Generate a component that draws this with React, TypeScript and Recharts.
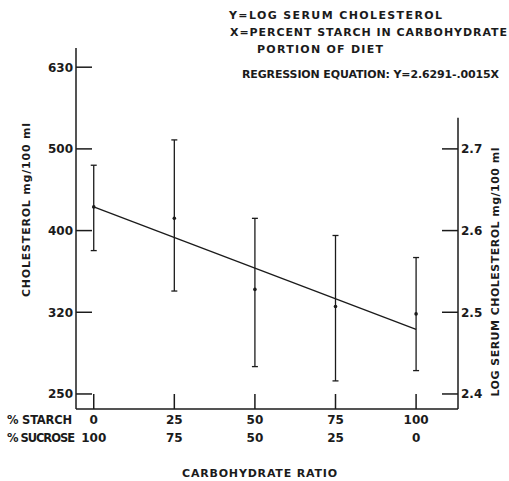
import React from 'react';
import { ComposedChart, Scatter, Line, XAxis, YAxis, ErrorBar, ReferenceLine } from 'recharts';

// ---- data ----
const starchPct = [0, 25, 50, 75, 100];
const sucrosePct = [100, 75, 50, 25, 0];
const meanLog = [2.629, 2.615, 2.528, 2.507, 2.498];
const upperLog = [2.68, 2.711, 2.615, 2.594, 2.567];
const lowerLog = [2.5755, 2.526, 2.4335, 2.416, 2.4286];
const regressionX = [0, 100];
const regressionY = [2.6291, 2.4791];
const logTicks = [2.4, 2.5, 2.6, 2.7];
const cholTickPos = [2.4, 2.5, 2.6, 2.7, 2.8];
const cholTickLabels = ['250', '320', '400', '500', '630'];
const xDomain: [number, number] = [-5.5, 113];
const yDomain: [number, number] = [2.3816, 2.8235];
const rightAxisTop = 2.738;

const INK = '#1b1b1b';
const FONT = '"DejaVu Sans", sans-serif';

const points = starchPct.map((x, i) => ({
  x,
  y: meanLog[i],
  err: [meanLog[i] - lowerLog[i], upperLog[i] - meanLog[i]],
}));
const regression = regressionX.map((x, i) => ({ x, y: regressionY[i] }));

const XTick = (props: any) => {
  const { x, y, payload } = props;
  const idx = starchPct.indexOf(payload.value);
  return (
    <g>
      <line x1={x} y1={y} x2={x} y2={y - 15} stroke={INK} strokeWidth={1.5} />
      <text x={x} y={y + 14.5} textAnchor="middle" fontFamily={FONT} fontWeight="bold" fontSize={12} fill={INK}>
        {payload.value}
      </text>
      <text x={x} y={y + 32.5} textAnchor="middle" fontFamily={FONT} fontWeight="bold" fontSize={12} fill={INK}>
        {idx >= 0 ? sucrosePct[idx] : ''}
      </text>
    </g>
  );
};

const LeftTick = (props: any) => {
  const { x, y, payload } = props;
  const idx = cholTickPos.findIndex((v) => Math.abs(v - payload.value) < 1e-6);
  return (
    <g>
      <line x1={x} y1={y} x2={x + 16} y2={y} stroke={INK} strokeWidth={1.5} />
      <text x={x - 3} y={y + 4.5} textAnchor="end" fontFamily={FONT} fontWeight="bold" fontSize={12} fill={INK}>
        {idx >= 0 ? cholTickLabels[idx] : ''}
      </text>
    </g>
  );
};

const RightTick = (props: any) => {
  const { x, y, payload } = props;
  return (
    <g>
      <line x1={x - 16} y1={y} x2={x} y2={y} stroke={INK} strokeWidth={1.5} />
      <text x={x + 3} y={y + 4.5} textAnchor="start" fontFamily={FONT} fontWeight="bold" fontSize={12} fill={INK}>
        {payload.value.toFixed(1)}
      </text>
    </g>
  );
};

const Dot = (props: any) => <circle cx={props.cx} cy={props.cy} r={1.8} fill={INK} />;

const txt = { fontFamily: FONT, fontWeight: 'bold' as const, fill: INK };

export default function App() {
  return (
    <div style={{ position: 'absolute', left: 0, top: 0, width: 509, height: 481, background: '#fff' }}>
      <ComposedChart width={509} height={481} margin={{ top: 48, right: 0, bottom: 0, left: 0 }}>
        <XAxis
          dataKey="x"
          type="number"
          domain={xDomain}
          allowDataOverflow
          ticks={starchPct}
          tickSize={0}
          tickMargin={0}
          tickLine={false}
          tick={<XTick />}
          height={72}
          axisLine={{ stroke: INK, strokeWidth: 1.5 }}
          interval={0}
        />
        <YAxis
          yAxisId="left"
          type="number"
          domain={yDomain}
          allowDataOverflow
          ticks={cholTickPos}
          tickSize={0}
          tickMargin={0}
          tickLine={false}
          tick={<LeftTick />}
          width={76}
          axisLine={{ stroke: INK, strokeWidth: 1.5 }}
          interval={0}
        />
        <YAxis
          yAxisId="right"
          orientation="right"
          type="number"
          domain={yDomain}
          allowDataOverflow
          ticks={logTicks}
          tickSize={0}
          tickMargin={0}
          tickLine={false}
          tick={<RightTick />}
          width={51}
          axisLine={false}
          interval={0}
        />
        <ReferenceLine
          yAxisId="right"
          segment={[{ x: xDomain[1], y: yDomain[0] }, { x: xDomain[1], y: rightAxisTop }]}
          stroke={INK}
          strokeWidth={1.5}
          ifOverflow="visible"
        />
        <Line
          yAxisId="left"
          data={regression}
          dataKey="y"
          type="linear"
          stroke={INK}
          strokeWidth={1.3}
          dot={false}
          isAnimationActive={false}
        />
        <Scatter yAxisId="left" data={points} dataKey="y" shape={<Dot />} isAnimationActive={false}>
          <ErrorBar dataKey="err" direction="y" width={3} stroke={INK} strokeWidth={1.3} isAnimationActive={false} />
        </Scatter>
      </ComposedChart>
      <svg width={509} height={481} style={{ position: 'absolute', left: 0, top: 0, pointerEvents: 'none' }}>
        <text x={229} y={19} fontSize={11} textLength={213} lengthAdjust="spacing" {...txt}>Y=LOG SERUM CHOLESTEROL</text>
        <text x={230} y={36} fontSize={11} textLength={277} lengthAdjust="spacing" {...txt}>X=PERCENT STARCH IN CARBOHYDRATE</text>
        <text x={257} y={53} fontSize={11} textLength={126} lengthAdjust="spacing" {...txt}>PORTION OF DIET</text>
        <text x={242} y={78} fontSize={11} textLength={257} lengthAdjust="spacing" {...txt}>REGRESSION EQUATION: Y=2.6291-.0015X</text>
        <text x={7} y={423.5} fontSize={11.5} textLength={65} lengthAdjust="spacing" {...txt}>% STARCH</text>
        <text x={7} y={441.5} fontSize={11.5} textLength={68} lengthAdjust="spacing" {...txt}>% SUCROSE</text>
        <text x={182} y={477} fontSize={11} textLength={155} lengthAdjust="spacing" {...txt}>CARBOHYDRATE RATIO</text>
        <text
          transform="translate(30 210) rotate(-90)"
          x={0}
          y={0}
          textAnchor="middle"
          fontSize={11}
          textLength={174}
          lengthAdjust="spacing"
          {...txt}
        >
          CHOLESTEROL  mg/100 ml
        </text>
        <text
          transform="translate(499 272) rotate(-90)"
          x={0}
          y={0}
          textAnchor="middle"
          fontSize={11}
          textLength={249}
          lengthAdjust="spacing"
          {...txt}
        >
          LOG SERUM CHOLESTEROL  mg/100 ml
        </text>
      </svg>
    </div>
  );
}
